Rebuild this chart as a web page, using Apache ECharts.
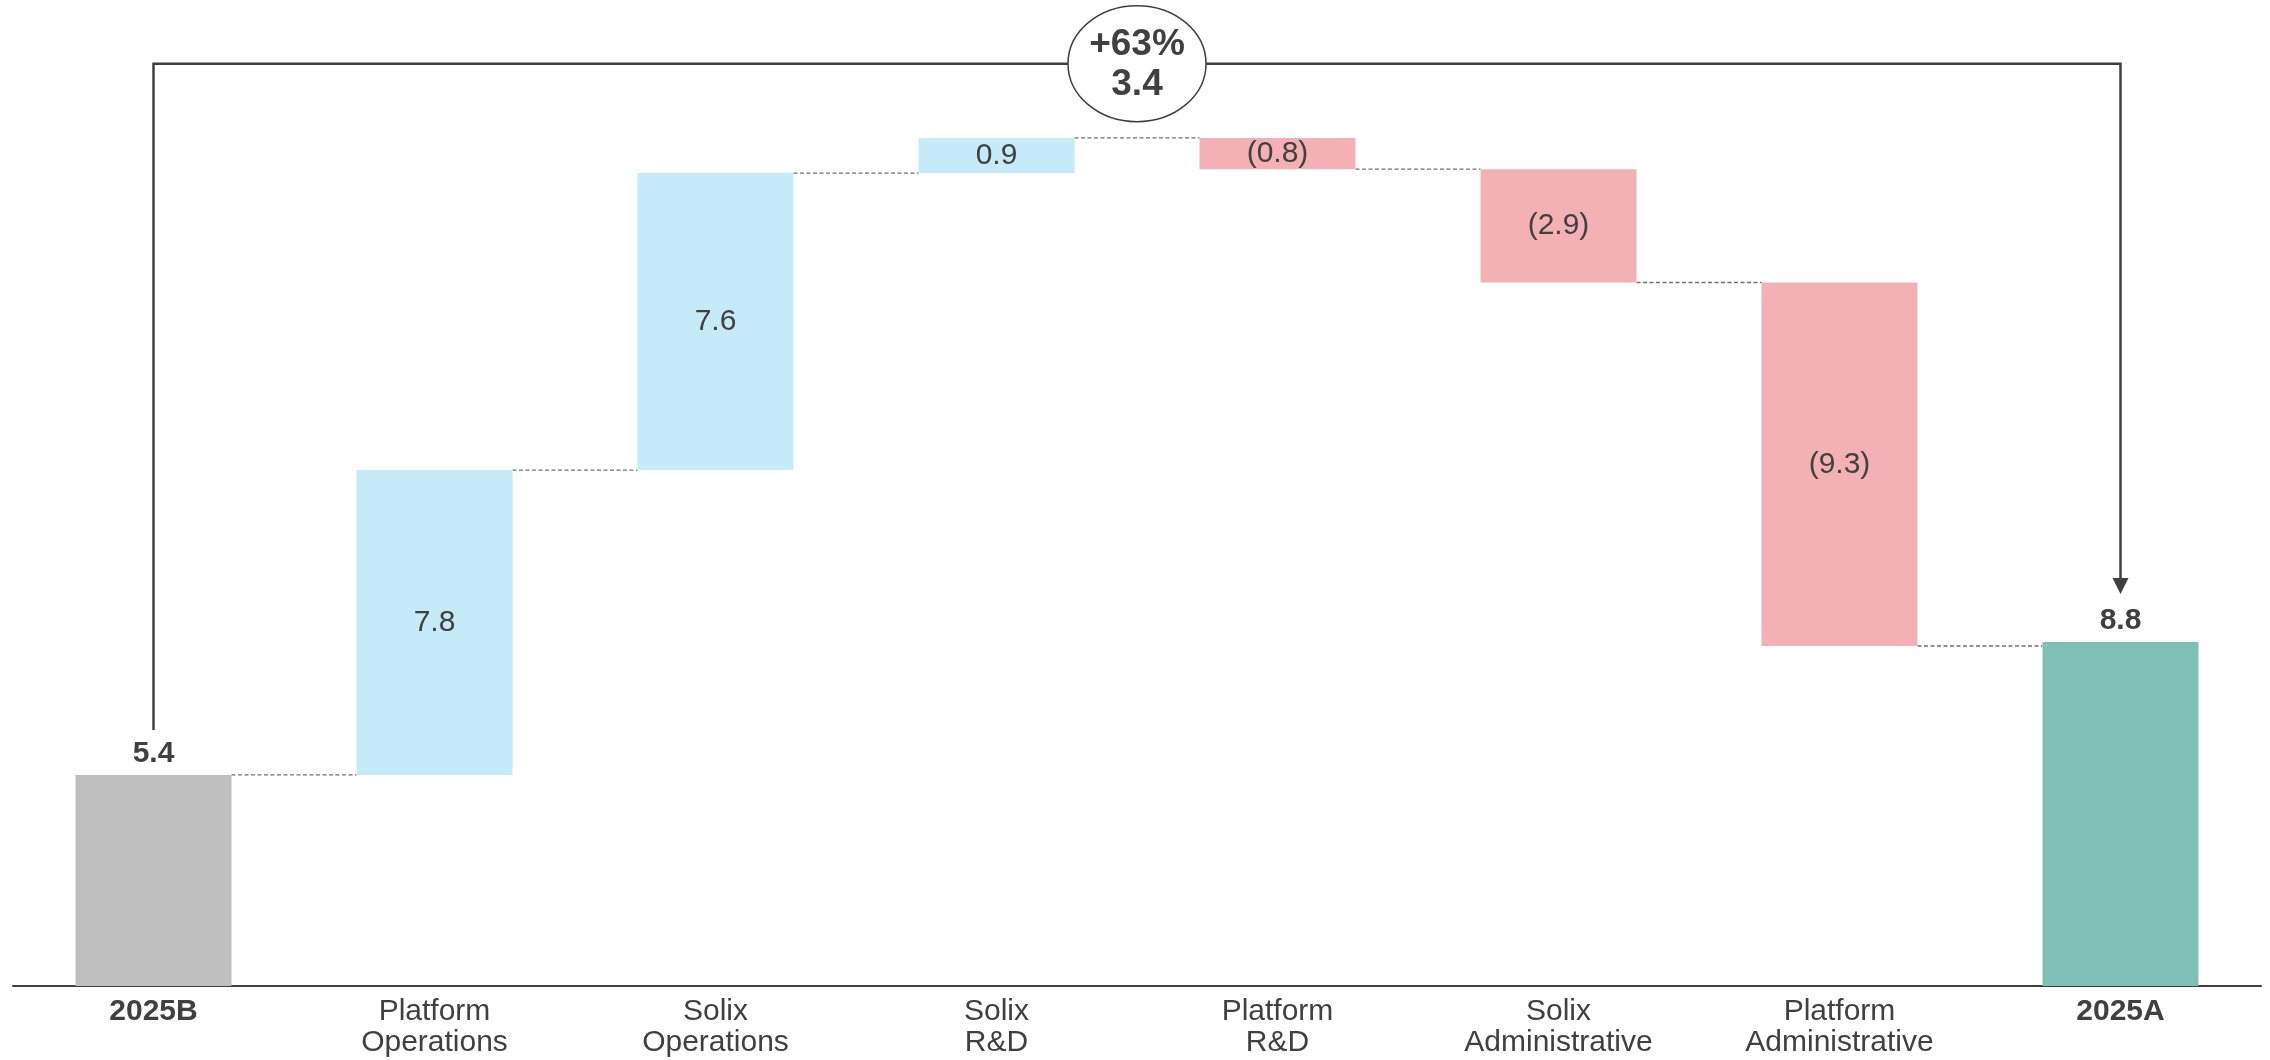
<!DOCTYPE html>
<html>
<head>
<meta charset="utf-8">
<script src="https://cdn.jsdelivr.net/npm/echarts@6/dist/echarts.min.js"></script>
<style>
  html, body { margin: 0; padding: 0; background: #ffffff; }
  #chart { width: 2270px; height: 1060px; }
</style>
</head>
<body>
<div id="chart"></div>
<script>
// Cost bridge: 2025 budget to 2025 actual
const categories = [
  '2025B',
  'Platform\nOperations',
  'Solix\nOperations',
  'Solix\nR&D',
  'Platform\nR&D',
  'Solix\nAdministrative',
  'Platform\nAdministrative',
  '2025A'
];
const budgetTotal = 5.4;
const changes = [7.8, 7.6, 0.9, -0.8, -2.9, -9.3];
const actualTotal = 8.8;

const COLORS = {
  budget: '#BFBFBF',
  actual: '#7FC0B6',
  up: '#C5EBF8',
  down: '#F4B1B5',
  text: '#404040',
  axis: '#404040',
  connector: '#707070'
};
const FONT = '"Liberation Sans", Arial, Helvetica, sans-serif';
const BAR_RATIO = 0.555;
const BRACKET_LEVEL = 23.6;

const round1 = v => Math.round(v * 10) / 10;
const fmtDelta = d => d < 0 ? '(' + Math.abs(d).toFixed(1) + ')' : d.toFixed(1);

const totalLabel = {
  position: 'top',
  distance: 6,
  fontWeight: 'bold'
};

// Invisible offsets plus visible bar bodies; levels hold the running total after each bar
const baseData = [0];
const bodyData = [{ value: budgetTotal, itemStyle: { color: COLORS.budget }, label: totalLabel }];
const levels = [budgetTotal];
let running = budgetTotal;
changes.forEach(d => {
  const next = round1(running + d);
  baseData.push(Math.min(running, next));
  bodyData.push({
    value: Math.abs(d),
    itemStyle: { color: d >= 0 ? COLORS.up : COLORS.down },
    label: { position: 'inside' }
  });
  running = next;
  levels.push(running);
});
baseData.push(0);
bodyData.push({ value: actualTotal, itemStyle: { color: COLORS.actual }, label: totalLabel });

const labelText = i => {
  if (i === 0) return budgetTotal.toFixed(1);
  if (i === categories.length - 1) return actualTotal.toFixed(1);
  return fmtDelta(changes[i - 1]);
};

const connectorData = levels.map((v, i) => [i, v]);

const chart = echarts.init(document.getElementById('chart'), null, { renderer: 'canvas' });

chart.setOption({
  animation: false,
  backgroundColor: '#ffffff',
  textStyle: { fontFamily: FONT },
  grid: { left: 13, right: 9, top: 48, bottom: 74, containLabel: false },
  xAxis: {
    type: 'category',
    data: categories,
    axisTick: { show: false },
    axisLine: { lineStyle: { color: COLORS.axis, width: 2 } },
    axisLabel: {
      interval: 0,
      margin: 10,
      color: COLORS.text,
      fontFamily: FONT,
      fontSize: 30,
      lineHeight: 31,
      formatter: (v, i) => (i === 0 || i === categories.length - 1) ? '{b|' + v + '}' : v,
      rich: {
        b: { fontWeight: 'bold', fontSize: 30, lineHeight: 31, color: COLORS.text, fontFamily: FONT }
      }
    }
  },
  yAxis: {
    type: 'value',
    min: 0,
    max: 24,
    show: false,
    splitLine: { show: false }
  },
  series: [
    {
      name: 'offset',
      type: 'bar',
      stack: 'bridge',
      barWidth: (BAR_RATIO * 100) + '%',
      itemStyle: { color: 'transparent' },
      emphasis: { disabled: true },
      silent: true,
      data: baseData
    },
    {
      name: 'value',
      type: 'bar',
      stack: 'bridge',
      barWidth: (BAR_RATIO * 100) + '%',
      emphasis: { disabled: true },
      label: {
        show: true,
        color: COLORS.text,
        fontFamily: FONT,
        fontSize: 30,
        formatter: p => labelText(p.dataIndex)
      },
      data: bodyData
    },
    {
      name: 'connector',
      type: 'custom',
      silent: true,
      encode: { x: 0, y: 1 },
      renderItem: (params, api) => {
        const i = api.value(0);
        const y = api.coord([i, api.value(1)])[1];
        const half = api.size([1, 0])[0] * BAR_RATIO / 2;
        const xa = api.coord([i, 0])[0] + half;
        const xb = api.coord([i + 1, 0])[0] - half;
        return {
          type: 'line',
          shape: { x1: xa, y1: y, x2: xb, y2: y },
          style: { stroke: COLORS.connector, lineWidth: 1.3, lineDash: [4, 2.5] }
        };
      },
      data: connectorData
    }
  ]
});

// Budget-to-actual bracket with variance bubble
const last = categories.length - 1;
const pStart = chart.convertToPixel({ gridIndex: 0 }, [0, budgetTotal]);
const pEnd = chart.convertToPixel({ gridIndex: 0 }, [last, actualTotal]);
const yTop = chart.convertToPixel({ gridIndex: 0 }, [0, BRACKET_LEVEL])[1];
const yLeftEnd = pStart[1] - 45;
const yArrowTip = pEnd[1] - 48;
const yArrowBase = yArrowTip - 16;
const midX = (pStart[0] + pEnd[0]) / 2;

const variance = round1(actualTotal - budgetTotal);
const variancePct = Math.round(variance / budgetTotal * 100);
const bubbleText = (variancePct >= 0 ? '+' : '') + variancePct + '%\n' + variance.toFixed(1);

chart.setOption({
  graphic: [
    {
      type: 'polyline',
      silent: true,
      z: 10,
      shape: { points: [[pStart[0], yLeftEnd], [pStart[0], yTop], [pEnd[0], yTop], [pEnd[0], yArrowBase]] },
      style: { stroke: COLORS.axis, lineWidth: 2.5, fill: null }
    },
    {
      type: 'polygon',
      silent: true,
      z: 10,
      shape: { points: [[pEnd[0] - 8, yArrowBase], [pEnd[0] + 8, yArrowBase], [pEnd[0], yArrowTip]] },
      style: { fill: COLORS.axis }
    },
    {
      type: 'ellipse',
      silent: true,
      z: 11,
      shape: { cx: midX, cy: yTop, rx: 69, ry: 58 },
      style: { fill: '#ffffff', stroke: COLORS.axis, lineWidth: 1.5 }
    },
    {
      type: 'text',
      silent: true,
      z: 12,
      x: midX,
      y: yTop + 1,
      style: {
        text: bubbleText,
        align: 'center',
        verticalAlign: 'middle',
        fontFamily: FONT,
        fontWeight: 'bold',
        fontSize: 37,
        lineHeight: 40,
        fill: COLORS.text
      }
    }
  ]
});
</script>
</body>
</html>
